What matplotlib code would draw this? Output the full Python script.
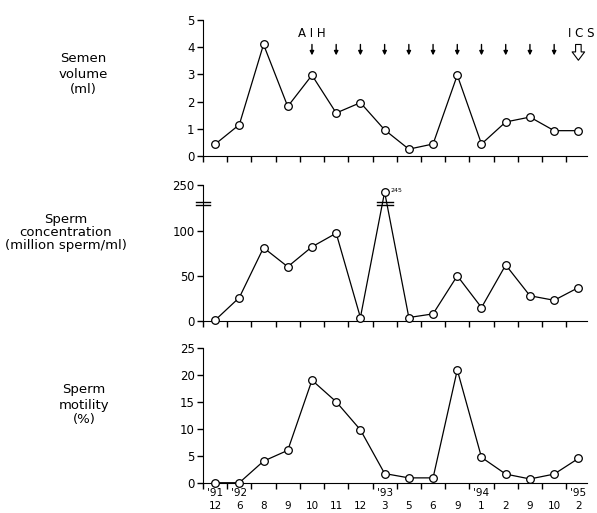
import numpy as np
import matplotlib
matplotlib.use("Agg")
import matplotlib.pyplot as plt

# visit index (one point per semen sample)
months = ["12", "6", "8", "9", "10", "11", "12", "3", "5", "6", "9", "1", "2", "9", "10", "2"]
years = {0: "'91", 1: "'92", 7: "'93", 11: "'94", 15: "'95"}

volume = [0.43, 1.15, 4.1, 1.82, 2.97, 1.58, 1.96, 0.96, 0.25, 0.44, 2.97, 0.44, 1.25, 1.43, 0.93, 0.93]
# concentration, the 245 sample is drawn above the axis break
concentration = [1, 26, 81, 60, 82, 97, 4, 245, 4, 8, 50, 15, 62, 28, 23, 37]
motility = [0, 0, 4, 6, 19, 15, 9.8, 1.7, 0.9, 0.9, 20.9, 4.7, 1.6, 0.7, 1.6, 4.5]

aih_visits = [4, 5, 6, 7, 8, 9, 10, 11, 12, 13, 14]
ics_visit = 15

conc_ticks = [0, 50, 100, 150]
conc_ticklabels = ["0", "50", "100", "250"]
break_level = 128.5
peak_display = 142.5

x = np.arange(len(months)) + 0.5


def style_axes(ax, ymax, yticks):
    ax.set_xlim(0, 15.85)
    ax.set_ylim(0, ymax)
    ax.spines["top"].set_visible(False)
    ax.spines["right"].set_visible(False)
    ax.set_xticks(np.arange(0, 16))
    ax.set_xticklabels([])
    ax.set_yticks(yticks)
    ax.tick_params(axis="both", direction="out", length=4, width=1, labelsize=8.5, pad=2)


def draw_series(ax, y):
    ax.plot(x, y, "-", color="black", lw=0.9, marker="o", ms=5.5, mfc="white",
            mec="black", mew=0.9, clip_on=False, zorder=3)


fig = plt.figure(figsize=(5.97, 5.13), dpi=100)

ax1 = fig.add_axes([0.340, 0.696, 0.643, 0.265])
ax2 = fig.add_axes([0.340, 0.374, 0.643, 0.265])
ax3 = fig.add_axes([0.340, 0.059, 0.643, 0.263])

# semen volume
style_axes(ax1, 5, range(0, 6))
draw_series(ax1, volume)
for i in aih_visits:
    ax1.annotate("", xy=(x[i], 3.7), xytext=(x[i], 4.1),
                 arrowprops=dict(arrowstyle="-|>", color="black", lw=1, mutation_scale=6,
                                 shrinkA=0, shrinkB=0))
ax1.annotate("", xy=(x[ics_visit], 3.52), xytext=(x[ics_visit], 4.1),
             arrowprops=dict(arrowstyle="simple,head_width=0.9,head_length=0.6,tail_width=0.4",
                             fc="white", ec="black", lw=0.8, mutation_scale=10,
                             shrinkA=0, shrinkB=0))
ax1.text(x[aih_visits[0]], 4.5, "A I H", ha="center", va="center", fontsize=8.5)
ax1.text(x[ics_visit] + 0.1, 4.5, "I C S", ha="center", va="center", fontsize=8.5, clip_on=False)

# sperm concentration (broken axis above 100)
style_axes(ax2, 150, conc_ticks)
ax2.set_yticklabels(conc_ticklabels)
conc_display = [peak_display if v > 150 else v for v in concentration]
draw_series(ax2, conc_display)
for xc, half in [(0, 0.27), (x[7], 0.33)]:
    for lv in (break_level, break_level + 3.5):
        ax2.plot([xc - half, xc + half], [lv, lv], color="black", lw=1, clip_on=False, zorder=4)
ax2.text(x[7] + 0.25, peak_display + 1.5, "245", fontsize=4.5, va="center", ha="left")

# sperm motility
style_axes(ax3, 25, range(0, 26, 5))
draw_series(ax3, motility)
trans = ax3.get_xaxis_transform()
for i, m in enumerate(months):
    ax3.text(x[i], -0.175, m, ha="center", va="center", fontsize=7.5, transform=trans, clip_on=False)
for i, yr in years.items():
    ax3.text(x[i], -0.078, yr, ha="center", va="center", fontsize=7.5, transform=trans, clip_on=False)

# row labels
fig.text(83 / 597, 1 - 74 / 513, "Semen\nvolume\n(ml)", ha="center", va="center",
         fontsize=9.5, linespacing=1.2)
fig.text(66 / 597, 1 - 233 / 513, "Sperm\nconcentration\n(million sperm/ml)", ha="center",
         va="center", fontsize=9.5, linespacing=1.0)
fig.text(84 / 597, 1 - 405 / 513, "Sperm\nmotility\n(%)", ha="center", va="center",
         fontsize=9.5, linespacing=1.2)

fig.savefig("out.png", dpi=100)
